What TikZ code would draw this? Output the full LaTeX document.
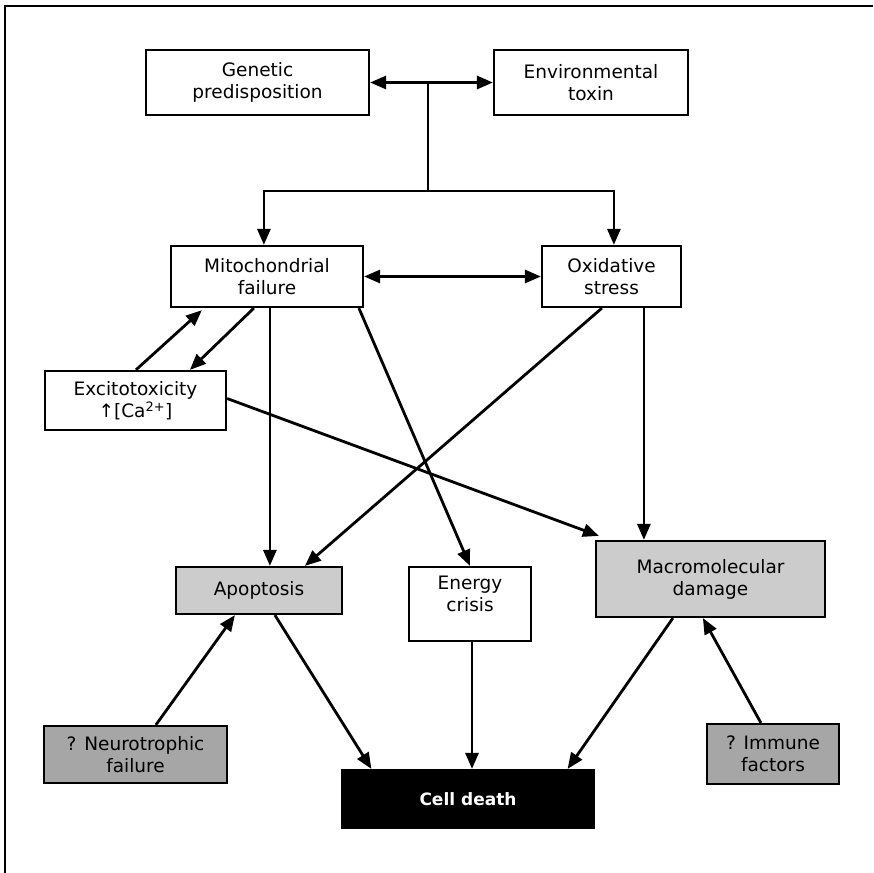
\documentclass[tikz,border=0pt]{standalone}
\usepackage{fontspec}
\setmainfont{DejaVu Sans}
\usetikzlibrary{arrows.meta,calc}
\begin{document}
\begin{tikzpicture}[x=1pt,y=-1pt,
  box/.style={draw=black,line width=2.2pt,fill=white,align=center,inner sep=0pt,
    font=\fontsize{18.5}{22}\selectfont},
  lgray/.style={box,fill=black!20},
  dgray/.style={box,fill=black!35},
  txt/.style={align=center,inner sep=0pt,font=\fontsize{18.5}{22}\selectfont},
  arr/.style={line width=2.8pt,-{Triangle[length=16pt,width=13pt]}},
  arrb/.style={line width=2.8pt,{Triangle[length=16pt,width=13pt]}-{Triangle[length=16pt,width=13pt]}},
  ln/.style={line width=2.8pt}
]
\useasboundingbox (0,0) rectangle (873,873);
% frame
\coordinate (fc) at (5,6);
\coordinate (fr) at (873,6);
\coordinate (fb) at (5,873);
\draw[line width=2pt] (fb) -- (fc) -- (fr);

% boxes
\node[box,minimum width=223pt,minimum height=65pt] (gen) at (257.5,82.5) {Genetic\\predisposition};
\node[box,minimum width=194pt,minimum height=65pt] (env) at (591,82.5) {Environmental\\toxin};
\node[box,minimum width=192pt,minimum height=61pt] (mito) at (267,276.5) {Mitochondrial\\failure};
\node[box,minimum width=139pt,minimum height=61pt] (ox) at (611.5,276.5) {Oxidative\\stress};
\node[box,minimum width=181pt,minimum height=59pt] (exc) at (135.5,400.5) {Excitotoxicity\\↑[Ca\textsuperscript{2+}]};
\node[lgray,minimum width=166pt,minimum height=47pt] (apo) at (259,590.5) {Apoptosis};
\node[box,minimum width=122pt,minimum height=74pt] (en) at (470,604) {};
\node[txt] (entxt) at (470,594) {Energy\\crisis};
\node[lgray,minimum width=229pt,minimum height=76pt] (mac) at (710.5,579) {Macromolecular\\damage};
\node[dgray,minimum width=183pt,minimum height=57pt] (neu) at (135.5,754.5) {? Neurotrophic\\failure};
\node[dgray,minimum width=132pt,minimum height=60pt] (imm) at (773,754) {? Immune\\factors};
\node[box,fill=black,text=white,minimum width=251pt,minimum height=58pt,
  font=\bfseries\fontsize{17}{20}\selectfont] (cell) at (468,799) {Cell death};

% top tree
\coordinate (j1) at (428,82.5);
\coordinate (j2) at (428,191);
\draw[arr] (j1) -- (gen);
\draw[arr] (j1) -- (env);
\draw[ln] (j1) -- (j2);
\draw[arr] (j2) -| ($(mito.north west)+(94,0)$);
\draw[arr] (j2) -| ($(ox.north west)+(73,0)$);

\draw[arrb] (mito) -- (ox);

% excitotoxicity loop
\draw[arr] ($(exc.north west)+(92,0)$) -- ($(mito.south west)+(32,2)$);
\draw[arr] ($(mito.south west)+(84,0)$) -- ($(exc.north west)+(146,0)$);

% middle connectors
\draw[arr] ($(mito.south west)+(100,0)$) -- ($(apo.north west)+(95,0)$);
\draw[arr] ($(mito.south west)+(189,0)$) -- (en.north);
\draw[arr] ($(ox.south west)+(61,0)$) -- ($(apo.north west)+(130,0)$);
\draw[arr] ($(ox.south west)+(103,0)$) -- ($(mac.north west)+(49,0)$);
\draw[arr] ($(exc.east)+(0,-2)$) -- ($(mac.north west)+(4,-4)$);

% bottom connectors
\draw[arr] ($(apo.south west)+(100,0)$) -- ($(cell.north west)+(30,0)$);
\draw[arr] ($(en.south)+(2,0)$) -- ($(en.south |- cell.north)+(2,0)$);
\draw[arr] ($(mac.south west)+(78,0)$) -- ($(cell.north east)+(-27,0)$);
\draw[arr] ($(neu.north west)+(113,0)$) -- ($(apo.south west)+(60,0)$);
\draw[arr] ($(imm.north west)+(55,0)$) -- ($(mac.south west)+(108,0)$);
\end{tikzpicture}
\end{document}
